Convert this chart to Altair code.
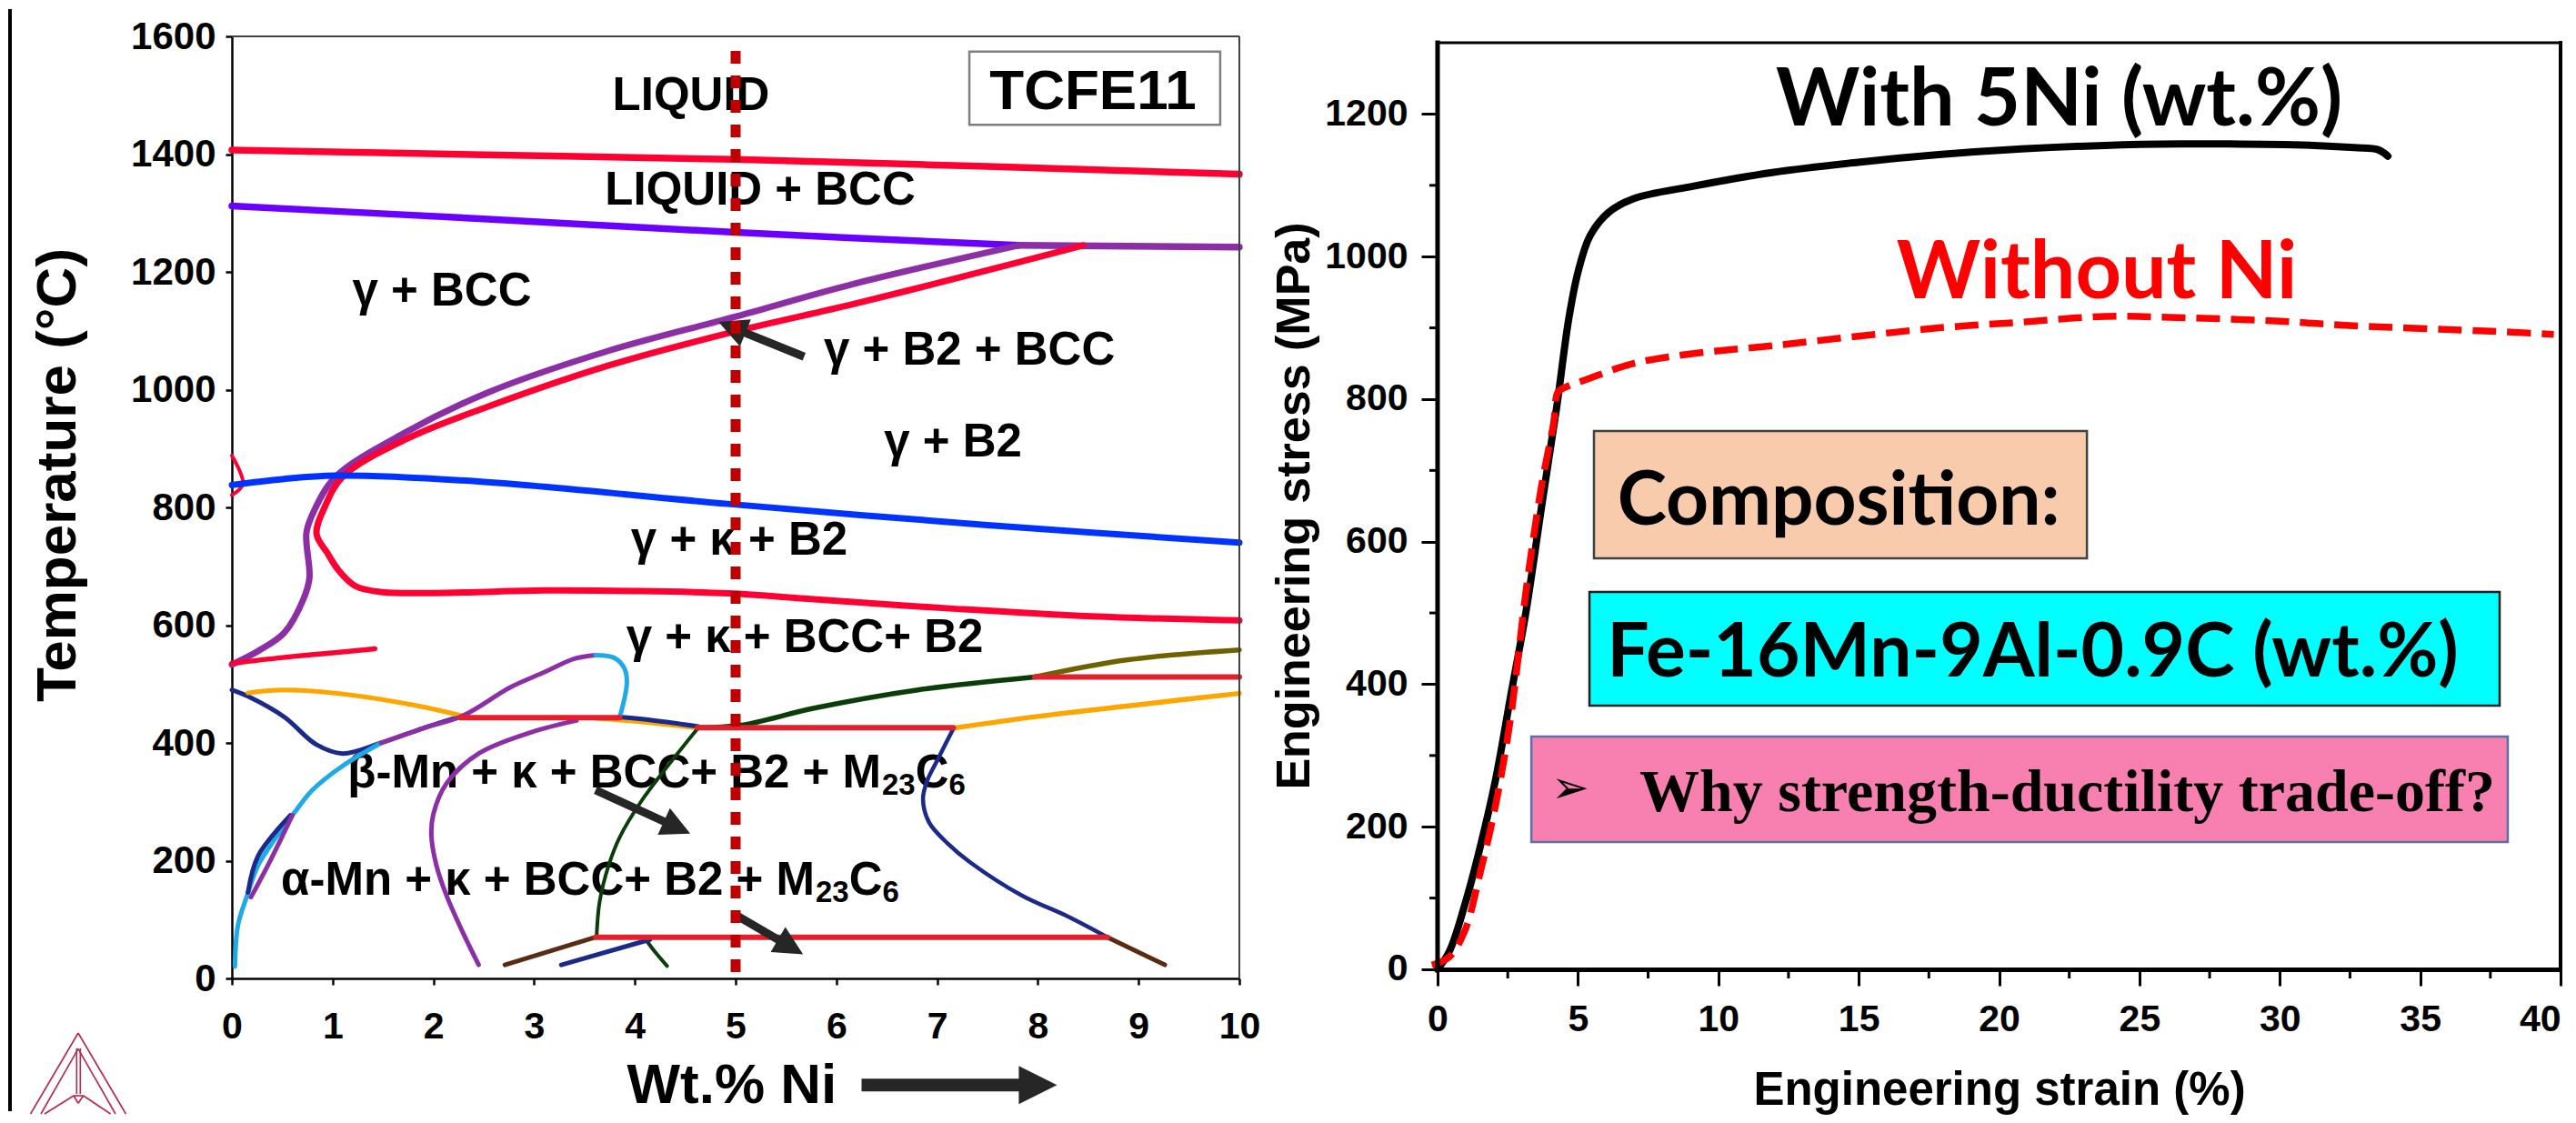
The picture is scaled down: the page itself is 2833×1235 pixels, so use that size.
import math
import altair as alt
import pandas as pd

# ================= layout (pixels) =================
L_W, L_H = 1108, 1036      # left plot area
R_W, R_H = 1235, 1036      # right plot area
GAP = 218                  # gap between the two plot areas

# ================= LEFT PANEL : isopleth (wt.% Ni vs T) =================
L_XDOM = [0, 10]
L_YDOM = [0, 1600]
KX = L_W / (L_XDOM[1] - L_XDOM[0])
KY = L_H / (L_YDOM[1] - L_YDOM[0])

RED = "#FF0033"; RED3 = "#E3202B"; VIOLET = "#6A00FF"; PURPLE = "#8C2FA6"
BLUE = "#0033FF"; NAVY = "#1B2A8A"; CYAN = "#1EAAE6"; ORANGE = "#FFA500"
GREEN = "#0B3D0B"; OLIVE = "#6E6200"; BROWN = "#5A2A12"

liquidus_x = [0, 2.5, 5, 7.5, 10]
liquidus_y = [1407, 1399, 1391, 1379, 1366]
solidus_x = [0, 2.5, 5, 7.81]
solidus_y = [1312, 1290, 1267, 1245]
peritectic_x = [7.81, 10]
peritectic_y = [1245, 1242]
g_bcc_x = [7.81, 6.16, 5.0, 3.74, 2.54, 1.73, 1.03, 0.81, 0.74, 0.77, 0.71, 0.52, 0.26, 0]
g_bcc_y = [1245, 1179, 1124, 1066, 995, 928, 852, 792, 757, 680, 644, 587, 556, 533]
g_b2_x = [8.45, 7.37, 6.16, 5.0, 3.74, 2.54, 1.73, 1.1, 0.92, 0.84, 0.95, 1.06, 1.23, 1.5, 2.13, 3.1, 4.0, 4.93, 5.78, 7.16, 8.53, 10]
g_b2_y = [1245, 1197, 1145, 1099, 1041, 971, 916, 852, 800, 755, 722, 693, 666, 656, 655, 659, 658, 654, 644, 628, 615, 608]
low_red_x = [0, 0.5, 1.0, 1.42]
low_red_y = [535, 545, 553, 560]
edge_red_x = [0, 0.11, 0]
edge_red_y = [888, 840, 821]
kappa_x = [0, 0.5, 1.03, 2.45, 4.92, 7.5, 10]
kappa_y = [838, 848, 854, 844, 806, 770, 740]
navy1_x = [0, 0.16, 0.52, 0.84, 1.1, 1.48, 1.9, 2.29]
navy1_y = [490, 479, 444, 397, 382, 400, 425, 446]
orange1_x = [0.16, 0.52, 1.16, 1.81, 2.29]
orange1_y = [485, 490, 482, 464, 446]
orange2_x = [3.6, 4.1, 4.63]
orange2_y = [442, 435, 425]
navy2_x = [3.85, 4.2, 4.63]
navy2_y = [444, 438, 428]
tie1_x = [2.27, 3.85]
tie1_y = [443, 443]
tie2_x = [4.62, 7.16]
tie2_y = [426, 426]
orange3_x = [7.16, 8.0, 9.0, 10]
orange3_y = [425, 445, 465, 484]
green1_x = [4.62, 5.05, 5.78, 6.81, 7.97]
green1_y = [426, 430, 459, 490, 512]
olive_x = [7.97, 8.88, 10]
olive_y = [512, 541, 558]
tie3_x = [7.97, 10]
tie3_y = [512, 512]
green2_x = [4.63, 4.3, 4.06, 3.85, 3.74, 3.65, 3.62]
green2_y = [426, 355, 300, 240, 192, 130, 70]
green3_x = [4.1, 4.2, 4.32]
green3_y = [68, 45, 21]
navy3_x = [3.27, 4.15]
navy3_y = [23, 66]
brown1_x = [2.71, 3.61]
brown1_y = [23, 70]
tie4_x = [3.61, 8.69]
tie4_y = [70, 70]
brown2_x = [8.69, 9.26]
brown2_y = [70, 23]
navy4_x = [7.16, 7.0, 6.9, 6.86, 6.92, 7.1, 7.33, 7.84, 8.3, 8.69]
navy4_y = [424, 370, 335, 305, 265, 230, 197, 141, 105, 70]
cyan1_x = [1.48, 1.1, 0.8, 0.61, 0.4, 0.26, 0.15, 0.06, 0.03]
cyan1_y = [400, 361, 320, 279, 230, 192, 140, 90, 20]
purple1_x = [1.48, 1.9, 2.29, 2.77, 3.1, 3.4, 3.61]
purple1_y = [400, 425, 446, 495, 520, 543, 549]
cyan2_x = [3.61, 3.8, 3.9, 3.92, 3.85]
cyan2_y = [549, 544, 525, 500, 444]
navy5_x = [0.16, 0.26, 0.58]
navy5_y = [146, 208, 277]
purple2_x = [0.19, 0.39, 0.6]
purple2_y = [138, 203, 277]
purple3_x = [3.42, 2.97, 2.45, 2.13, 2.0, 1.98, 2.03, 2.13, 2.29, 2.45]
purple3_y = [438, 418, 382, 331, 279, 244, 192, 141, 79, 23]

curves = [
    ("liquidus", RED, 7.5, liquidus_x, liquidus_y),
    ("solidus", VIOLET, 7.5, solidus_x, solidus_y),
    ("peritectic", PURPLE, 7.5, peritectic_x, peritectic_y),
    ("g_bcc", PURPLE, 7, g_bcc_x, g_bcc_y),
    ("g_b2", RED, 7, g_b2_x, g_b2_y),
    ("low_red", RED, 5.5, low_red_x, low_red_y),
    ("edge_red", RED, 4, edge_red_x, edge_red_y),
    ("kappa", BLUE, 7, kappa_x, kappa_y),
    ("navy1", NAVY, 5, navy1_x, navy1_y),
    ("orange1", ORANGE, 5, orange1_x, orange1_y),
    ("orange2", ORANGE, 5, orange2_x, orange2_y),
    ("navy2", NAVY, 5, navy2_x, navy2_y),
    ("orange3", ORANGE, 5.5, orange3_x, orange3_y),
    ("green1", GREEN, 5.5, green1_x, green1_y),
    ("olive", OLIVE, 5.5, olive_x, olive_y),
    ("green2", GREEN, 4, green2_x, green2_y),
    ("green3", GREEN, 4, green3_x, green3_y),
    ("navy3", NAVY, 5, navy3_x, navy3_y),
    ("brown1", BROWN, 5, brown1_x, brown1_y),
    ("brown2", BROWN, 5, brown2_x, brown2_y),
    ("navy4", NAVY, 4.5, navy4_x, navy4_y),
    ("cyan1", CYAN, 5, cyan1_x, cyan1_y),
    ("purple1", PURPLE, 5, purple1_x, purple1_y),
    ("cyan2", CYAN, 5, cyan2_x, cyan2_y),
    ("navy5", NAVY, 5, navy5_x, navy5_y),
    ("purple2", PURPLE, 5, purple2_x, purple2_y),
    ("purple3", PURPLE, 5, purple3_x, purple3_y),
    ("tie1", RED3, 6, tie1_x, tie1_y),
    ("tie2", RED3, 6, tie2_x, tie2_y),
    ("tie3", RED3, 6, tie3_x, tie3_y),
    ("tie4", RED3, 6, tie4_x, tie4_y),
]
rows = []
for name, col, w, xs, ys in curves:
    for k, (a, b) in enumerate(zip(xs, ys)):
        rows.append(dict(id=name, k=k, x=a, y=b, col=col, w=w))
phase_df = pd.DataFrame(rows)

# region labels
lbl_text = ["LIQUID", "LIQUID + BCC", "γ + BCC", "γ + B2 + BCC", "γ + B2", "γ + κ + B2", "γ + κ + BCC+ B2"]
lbl_x = [4.558, 5.244, 2.085, 7.32, 7.157, 5.036, 5.686]
lbl_y = [1475, 1314, 1143, 1042, 886, 720, 554]
lbl_df = pd.DataFrame(dict(x=lbl_x, y=lbl_y, t=lbl_text))

mix_main = ["β-Mn + κ + BCC+ B2 + M", "α-Mn + κ + BCC+ B2 + M"]
mix_x = [6.444, 5.785]
mix_y = [324, 142]
mix_df = pd.DataFrame(dict(x=mix_x, y=mix_y, t=mix_main))
LBL_FS = 51
SUB_FS = 33
W23 = 2 * 0.556 * SUB_FS
WC = 0.722 * LBL_FS

# TCFE11 box
tc_box_x = [7.32, 9.81]
tc_box_y = [1450, 1574]
tc_text_x, tc_text_y = 8.547, 1476

# arrows (tail -> tip)
arr_x0 = [5.68, 3.61, 5.00, 6.25]
arr_y0 = [1056, 320, 108, -181]
arr_x1 = [4.83, 4.55, 5.67, 8.19]
arr_y1 = [1115, 246, 41, -181]
arr_head = [32, 32, 32, 42]
arr_shaft = [9, 9, 9, 14]


def arrow_df(x0s, y0s, x1s, y1s, heads, shafts, kx, ky):
    out = []
    for x0, y0, x1, y1, h, s in zip(x0s, y0s, x1s, y1s, heads, shafts):
        dxp = (x1 - x0) * kx
        dyp = -(y1 - y0) * ky
        L = math.hypot(dxp, dyp)
        ux, uy = dxp / L, dyp / L
        xc = x1 - (h / 2) * ux / kx
        yc = y1 + (h / 2) * uy / ky
        ang = math.degrees(math.atan2(dyp, dxp)) % 360
        out.append(dict(x0=x0, y0=y0, xc=xc, yc=yc, ang=ang, size=h * h, sw=s))
    return pd.DataFrame(out)


arr_df = arrow_df(arr_x0, arr_y0, arr_x1, arr_y1, arr_head, arr_shaft, KX, KY)
HEAD = "M -1 -1 L 1 0 L -1 1 Z"

# Thermo-Calc logo segments (data units, below/left of the plot)
logo_x = [-1.5253, -1.5253, -1.5253, -1.5253, -1.5406, -1.5045, -1.5704, -1.4738, -1.5253, -1.5704, -1.4738]
logo_y = [-92.66, -92.66, -119.4, -119.4, -118.9, -118.9, -199.2, -199.2, -212.0, -199.2, -199.2]
logo_x2 = [-1.9982, -1.0523, -1.8953, -1.1552, -1.5406, -1.5045, -1.4738, -1.5253, -1.5704, -1.8592, -1.2040]
logo_y2 = [-230.1, -230.1, -230.1, -230.1, -196.1, -196.1, -199.2, -212.0, -199.2, -230.1, -230.1]
logo_df = pd.DataFrame(dict(x=logo_x, y=logo_y, x2=logo_x2, y2=logo_y2))

border_x = -2.2022
border_y = [1646.3, -225.5]

LABEL_FONT = "Liberation Sans"

xs_l = alt.Scale(domain=L_XDOM, nice=False, zero=False)
ys_l = alt.Scale(domain=L_YDOM, nice=False, zero=False)

left_x_axis = alt.Axis(
    values=list(range(0, 11)), format="d", tickSize=7, tickWidth=2.5, domainWidth=2.5,
    labelFont=LABEL_FONT, labelFontWeight="bold", labelFontSize=41, labelPadding=26,
    labelFlush=False, labelOverlap=False, grid=False,
    title="Wt.% Ni", titleFont=LABEL_FONT, titleFontWeight="bold", titleFontSize=62,
    titleX=434, titleY=136, titleAlign="left", titleBaseline="alphabetic", titleAngle=0)
left_y_axis = alt.Axis(
    values=list(range(0, 1601, 200)), format="d", tickSize=7, tickWidth=2.5, domainWidth=2.5,
    labelFont=LABEL_FONT, labelFontWeight="bold", labelFontSize=42, labelPadding=11,
    labelFlush=False, labelOverlap=False, grid=False,
    title="Temperature (°C)", titleFont=LABEL_FONT, titleFontWeight="bold", titleFontSize=62,
    titleX=-192, titleY=482, titleAngle=270, titleAlign="center", titleBaseline="middle")


def LX(f):
    return alt.X(f, scale=xs_l, axis=left_x_axis)


def LY(f):
    return alt.Y(f, scale=ys_l, axis=left_y_axis)


phase_lines = alt.Chart(phase_df).mark_line(interpolate="catmull-rom", strokeCap="round", strokeJoin="round").encode(
    x=LX("x:Q"), y=LY("y:Q"),
    detail="id:N",
    order="k:Q",
    color=alt.Color("col:N", scale=None),
    strokeWidth=alt.StrokeWidth("w:Q", scale=None),
)

labels = alt.Chart(lbl_df).mark_text(font=LABEL_FONT, fontWeight="bold", fontSize=LBL_FS,
                                     align="center", baseline="alphabetic", color="black").encode(
    x=LX("x:Q"), y=LY("y:Q"), text="t:N")
mix_labels = alt.Chart(mix_df).mark_text(font=LABEL_FONT, fontWeight="bold", fontSize=LBL_FS,
                                         align="right", baseline="alphabetic", color="black").encode(
    x=LX("x:Q"), y=LY("y:Q"), text="t:N")
sub23 = alt.Chart(mix_df).mark_text(font=LABEL_FONT, fontWeight="bold", fontSize=SUB_FS, dx=1, dy=8,
                                    align="left", baseline="alphabetic", color="black", text="23").encode(
    x=LX("x:Q"), y=LY("y:Q"))
subC = alt.Chart(mix_df).mark_text(font=LABEL_FONT, fontWeight="bold", fontSize=LBL_FS, dx=1 + W23,
                                   align="left", baseline="alphabetic", color="black", text="C").encode(
    x=LX("x:Q"), y=LY("y:Q"))
sub6 = alt.Chart(mix_df).mark_text(font=LABEL_FONT, fontWeight="bold", fontSize=SUB_FS, dx=1 + W23 + WC, dy=8,
                                   align="left", baseline="alphabetic", color="black", text="6").encode(
    x=LX("x:Q"), y=LY("y:Q"))

tc_box = alt.Chart(pd.DataFrame(dict(x=[tc_box_x[0]], x2=[tc_box_x[1]], y=[tc_box_y[0]], y2=[tc_box_y[1]]))).mark_rect(
    fill="white", stroke="#7F7F7F", strokeWidth=2.5).encode(x=LX("x:Q"), x2="x2:Q", y=LY("y:Q"), y2="y2:Q")
tc_text = alt.Chart(pd.DataFrame(dict(x=[tc_text_x], y=[tc_text_y], t=["TCFE11"]))).mark_text(
    font=LABEL_FONT, fontWeight="bold", fontSize=62, align="center", baseline="alphabetic", color="black").encode(
    x=LX("x:Q"), y=LY("y:Q"), text="t:N")

shafts = alt.Chart(arr_df).mark_rule(color="#262626", strokeCap="butt", clip=False).encode(
    x=LX("x0:Q"), y=LY("y0:Q"), x2="xc:Q", y2="yc:Q", strokeWidth=alt.StrokeWidth("sw:Q", scale=None))
heads = alt.Chart(arr_df).mark_point(shape=HEAD, filled=True, color="#262626", opacity=1, strokeWidth=0, clip=False).encode(
    x=LX("xc:Q"), y=LY("yc:Q"), size=alt.Size("size:Q", scale=None), angle=alt.Angle("ang:Q", scale=None))

dashed = alt.Chart(pd.DataFrame(dict(x=[5.0], y=[11], y2=[1586]))).mark_rule(
    color="#C00000", strokeWidth=11, strokeDash=[14, 13], strokeCap="butt").encode(
    x=LX("x:Q"), y=LY("y:Q"), y2="y2:Q")

frame_l = alt.Chart(pd.DataFrame(dict(x=[0, 10], x2=[10, 10], y=[1600, 0], y2=[1600, 1600]))).mark_rule(
    color="#404040", strokeWidth=2).encode(x=LX("x:Q"), x2="x2:Q", y=LY("y:Q"), y2="y2:Q")

logo = alt.Chart(logo_df).mark_rule(color="#B3284B", strokeWidth=1.6, clip=False).encode(
    x=LX("x:Q"), y=LY("y:Q"), x2="x2:Q", y2="y2:Q")
border = alt.Chart(pd.DataFrame(dict(x=[border_x], y=[border_y[0]], y2=[border_y[1]]))).mark_rule(
    color="black", strokeWidth=4, strokeCap="butt", clip=False).encode(x=LX("x:Q"), y=LY("y:Q"), y2="y2:Q")

left = alt.layer(
    labels, mix_labels, sub23, subC, sub6, tc_box, tc_text,
    phase_lines, frame_l, shafts, heads, dashed, logo, border,
).properties(width=L_W, height=L_H)

# ================= RIGHT PANEL : engineering stress-strain =================
R_XDOM = [0, 40]
R_YDOM = [-12.76, 1309.0]

ni5_strain = [0, 0.43, 0.98, 1.52, 2.07, 2.61, 3.15, 3.70, 4.24, 4.67, 5.0, 5.43, 6.09, 6.96, 9.13, 11.92,
              14.9, 17.85, 20.8, 23.77, 26.5, 28.2, 30.5, 32.65, 33.5, 33.85]
ni5_stress = [0, 26, 92, 172, 267, 385, 502, 648, 788, 912, 978, 1029, 1062, 1081, 1099, 1118,
              1132, 1143, 1151, 1156, 1158, 1158, 1157, 1153, 1150, 1141]
ni0_strain = [-0.2, 0.43, 0.98, 1.52, 2.07, 2.61, 3.15, 3.70, 4.13, 4.29, 4.57, 5.33, 6.96, 9.13, 11.92,
              14.9, 17.85, 20.8, 23.77, 26.7, 29.7, 32.6, 37.1, 39.76]
ni0_stress = [6, 18, 55, 136, 231, 355, 531, 678, 766, 810, 817, 828, 850, 864, 875,
              888, 900, 908, 916, 914, 910, 903, 896, 891]

x_major = list(range(0, 41, 5))
x_minor = [2.5 + 5 * i for i in range(8)]
y_major = list(range(0, 1201, 200))
y_minor = list(range(100, 1200, 200))

xs_r = alt.Scale(domain=R_XDOM, nice=False, zero=False)
ys_r = alt.Scale(domain=R_YDOM, nice=False, zero=False)

right_x_axis = alt.Axis(
    values=x_major, format="d", tickSize=18, tickWidth=3, domainWidth=5, offset=-10,
    labelFont=LABEL_FONT, labelFontWeight="bold", labelFontSize=41, labelPadding=17,
    labelAlign={"condition": {"test": "datum.value >= 40", "value": "right"}, "value": "center"},
    labelFlush=False, labelOverlap=False, grid=False,
    title="Engineering strain (%)", titleFont=LABEL_FONT, titleFontWeight="bold", titleFontSize=51,
    titleX=R_W / 2, titleY=148, titleAlign="center", titleBaseline="alphabetic", titleAngle=0)
right_y_axis = alt.Axis(
    values=y_major, format="d", tickSize=18, tickWidth=3, domain=False,
    labelFont=LABEL_FONT, labelFontWeight="bold", labelFontSize=41, labelPadding=15,
    labelFlush=False, labelOverlap=False, grid=False,
    title="Engineering stress (MPa)", titleFont=LABEL_FONT, titleFontWeight="bold", titleFontSize=52,
    titleX=-158, titleY=516, titleAngle=270, titleAlign="center", titleBaseline="middle")


def RX(f):
    return alt.X(f, scale=xs_r, axis=right_x_axis)


def RY(f):
    return alt.Y(f, scale=ys_r, axis=right_y_axis)


curve5 = alt.Chart(pd.DataFrame(dict(x=ni5_strain, y=ni5_stress))).mark_line(
    color="black", strokeWidth=8, interpolate="catmull-rom", strokeCap="round").encode(
    x=RX("x:Q"), y=RY("y:Q"))
curve0 = alt.Chart(pd.DataFrame(dict(x=ni0_strain, y=ni0_stress))).mark_line(
    color="#FF0000", strokeWidth=7.5, strokeDash=[26, 12], interpolate="catmull-rom").encode(
    x=RX("x:Q"), y=RY("y:Q"))

frame_r = alt.Chart(pd.DataFrame(dict(x=[0, 0, 40], x2=[0, 40, 40], y=[0, 1300, 0], y2=[1300, 1300, 1300],
                                      sw=[5, 3, 4]))).mark_rule(color="black", strokeCap="square").encode(
    x=RX("x:Q"), x2="x2:Q", y=RY("y:Q"), y2="y2:Q", strokeWidth=alt.StrokeWidth("sw:Q", scale=None))

minor_x = alt.Chart(pd.DataFrame(dict(x=x_minor, y=[0] * len(x_minor)))).mark_tick(
    orient="vertical", size=10, thickness=3, color="black", yOffset=5, opacity=1).encode(
    x=RX("x:Q"), y=RY("y:Q"))
minor_y = alt.Chart(pd.DataFrame(dict(y=y_minor, x=[0] * len(y_minor)))).mark_tick(
    orient="horizontal", size=9, thickness=3, color="black", xOffset=-4.5, opacity=1).encode(
    y=RY("y:Q"), x=RX("x:Q"))

# annotation boxes
box_x = [5.57, 5.41, 3.34]
box_x2 = [23.13, 37.83, 38.12]
box_y = [576.7, 370.0, 178.6]
box_y2 = [755.3, 529.5, 326.6]
box_fill = ["#F8CBAD", "#00FFFF", "#F780B0"]
box_stroke = ["#404040", "#1F1F1F", "#5B6FA8"]
boxes = alt.Chart(pd.DataFrame(dict(x=box_x, x2=box_x2, y=box_y, y2=box_y2, f=box_fill, s=box_stroke))).mark_rect(
    strokeWidth=2.5).encode(
    x=RX("x:Q"), x2="x2:Q", y=RY("y:Q"), y2="y2:Q",
    fill=alt.Fill("f:N", scale=None), stroke=alt.Stroke("s:N", scale=None))

title5 = alt.Chart(pd.DataFrame(dict(x=[22.14], y=[1184], t=["With 5Ni (wt.%)"]))).mark_text(
    font="Lato", fontWeight="bold", fontSize=88, color="black", align="center", baseline="alphabetic").encode(
    x=RX("x:Q"), y=RY("y:Q"), text="t:N")
title0 = alt.Chart(pd.DataFrame(dict(x=[23.48], y=[941.6], t=["Without Ni"]))).mark_text(
    font="Lato", fontWeight="bold", fontSize=88, color="#FF0000", align="center", baseline="alphabetic").encode(
    x=RX("x:Q"), y=RY("y:Q"), text="t:N")
comp_text = alt.Chart(pd.DataFrame(dict(x=[14.29, 21.2], y=[623.9, 410.8],
                                        t=["Composition:", "Fe-16Mn-9Al-0.9C (wt.%)"]))).mark_text(
    font="Lato", fontWeight="bold", fontSize=82, color="black", align="center", baseline="alphabetic").encode(
    x=RX("x:Q"), y=RY("y:Q"), text="t:N")
bullet = alt.Chart(pd.DataFrame(dict(x=[4.73], y=[252.6], t=["➢"]))).mark_text(
    font="DejaVu Sans", fontSize=50, color="black", align="center", baseline="middle").encode(
    x=RX("x:Q"), y=RY("y:Q"), text="t:N")
why = alt.Chart(pd.DataFrame(dict(x=[7.19], y=[222], t=["Why strength-ductility trade-off?"]))).mark_text(
    font="Liberation Serif", fontWeight="bold", fontSize=66, color="black", align="left", baseline="alphabetic").encode(
    x=RX("x:Q"), y=RY("y:Q"), text="t:N")

right = alt.layer(
    boxes, comp_text, bullet, why, title5, title0, curve5, curve0, frame_r, minor_x, minor_y,
).properties(width=R_W, height=R_H)

chart = alt.hconcat(left, right, spacing=GAP, bounds="flush").properties(
    padding=0, background="white"
).configure_view(strokeWidth=0).configure_axis(
    labelColor="black", titleColor="black", domainColor="black", tickColor="black", grid=False)

chart.save("out.html", embed_options={"renderer": "svg", "actions": False})
